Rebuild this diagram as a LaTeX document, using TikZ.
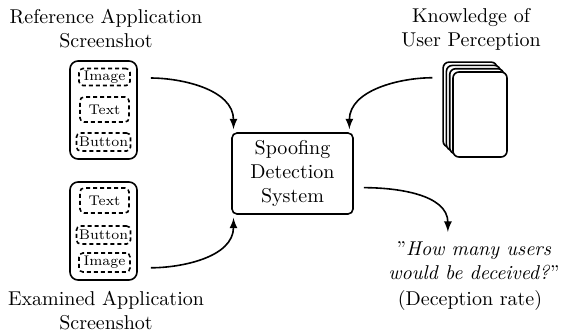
\documentclass[tikz,border=0pt]{standalone}
\usepackage{tikz}

\tikzset{
  phone/.style={draw, thick, rounded corners=4pt, minimum width=33.5pt, minimum height=49pt},
  elem/.style={draw, thick, dash pattern=on 2pt off 1.5pt, rounded corners=2pt,
    font=\scriptsize, inner sep=1pt, minimum width=25.5pt, minimum height=9pt},
  card/.style={draw, thick, fill=white, rounded corners=3pt, minimum width=27pt, minimum height=42.5pt},
  sysbox/.style={draw, thick, rounded corners=2.5pt, align=center, minimum width=60.5pt, minimum height=40.5pt},
  flow/.style={-latex, thick},
}

\begin{document}
\begin{tikzpicture}[x=0.5pt, y=-0.5pt]
  \useasboundingbox (0,0) rectangle (571,333);
  % left: the two screenshots
  \node[align=center] (reftitle) at (106,29) {Reference Application\\Screenshot};
  \node[phone] (ref) at (103.5,110) {};
  \node[elem, minimum height=8.5pt] (rimg) at (104.5,77) {Image};
  \node[elem, minimum height=12.5pt, minimum width=24.5pt] (rtxt) at (104.5,109.5) {Text};
  \node[elem, minimum width=27pt] (rbtn) at (103.5,142) {Button};

  \node[phone] (exam) at (103.5,231) {};
  \node[elem, minimum height=12.5pt, minimum width=24.5pt] (etxt) at (104.5,200.5) {Text};
  \node[elem, minimum width=27pt] (ebtn) at (103.5,235) {Button};
  \node[elem, minimum height=9.5pt] (eimg) at (104.5,262.5) {Image};
  \node[align=center] (examtitle) at (106,311) {Examined Application\\Screenshot};

  % middle: detector
  \node[sysbox] (sds) at (292.5,173.5) {Spoofing\\Detection\\System};

  % right: knowledge stack
  \node[align=center] (knowtitle) at (471,29) {Knowledge of\\User Perception};
  \foreach \i in {3,2,1}
    \node[card] (k\i) at ({480-3.3*\i},{114.5-3.3*\i}) {};
  \node[card] (know) at (480,114.5) {};

  % output
  \node[align=center] (quote) at (474,261) {''\textit{How many users}\\\textit{would be deceived?}''};
  \node (rate) at (470,300) {(Deception rate)};

  \draw[flow, shorten <=6.5pt, shorten >=1.5pt] (ref.43) to[out=0, in=90] (sds.145);
  \draw[flow, shorten <=6.5pt, shorten >=1.5pt] (exam.-47) to[out=0, in=-90] (sds.215);
  \draw[flow, shorten <=5pt, shorten >=1.5pt] (k3.136) to[out=180, in=90] (sds.36);
  \draw[flow, shorten <=5pt, shorten >=1.5pt] (sds.-13) to[out=0, in=90] (quote.135);
\end{tikzpicture}
\end{document}
